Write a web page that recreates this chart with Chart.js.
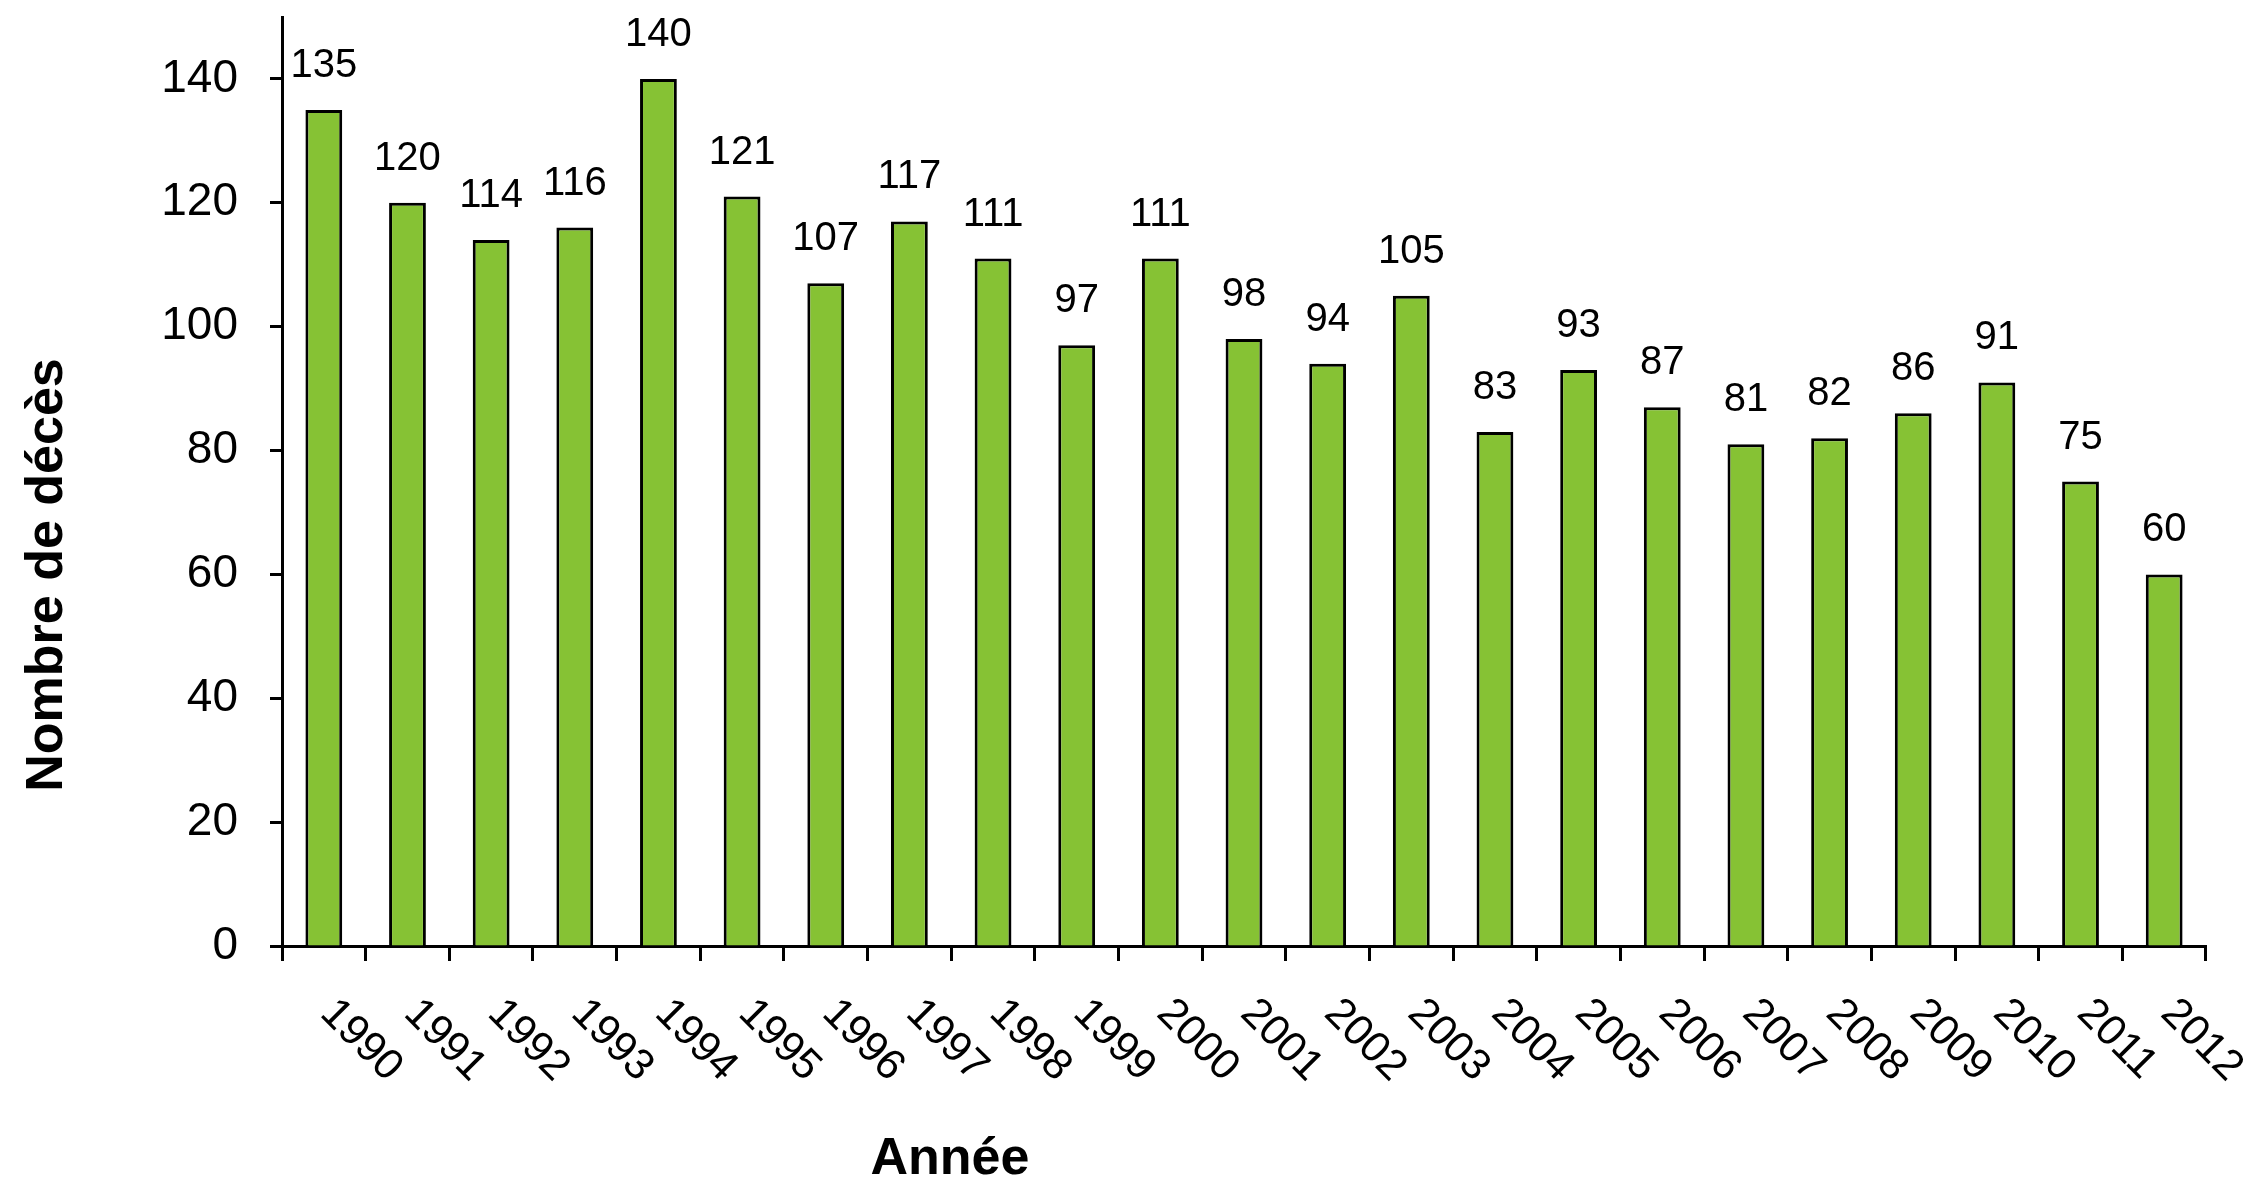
<!DOCTYPE html>
<html lang="fr">
<head>
<meta charset="utf-8">
<title>Nombre de décès par année</title>
<script src="https://cdn.jsdelivr.net/npm/chart.js@4.4.1/dist/chart.umd.min.js"></script>
<style>
    html, body { margin: 0; padding: 0; background: #fff; }
    #wrap { width: 2264px; height: 1182px; position: relative; }
</style>
</head>
<body>
<div id="wrap"><canvas id="decesChart"></canvas></div>
<script>
// données
const years = ['1990', '1991', '1992', '1993', '1994', '1995', '1996', '1997', '1998', '1999', '2000',
    '2001', '2002', '2003', '2004', '2005', '2006', '2007', '2008', '2009', '2010', '2011', '2012'];
const deaths = [135, 120, 114, 116, 140, 121, 107, 117, 111, 97, 111,
    98, 94, 105, 83, 93, 87, 81, 82, 86, 91, 75, 60];
const yTicks = [0, 20, 40, 60, 80, 100, 120, 140];

const FONT = "'Liberation Sans', Arial, sans-serif";
const BAR_GREEN = '#86C234';

// étiquettes : valeurs au-dessus des barres, années inclinées, titres des axes
const labelsPlugin = {
    id: 'labelsPlugin',
    afterDatasetsDraw(chart) {
        const ctx = chart.ctx;
        const meta = chart.getDatasetMeta(0);
        const xScale = chart.scales.x;

        ctx.save();
        ctx.fillStyle = '#000';

        // valeurs
        ctx.font = `40px ${FONT}`;
        ctx.textAlign = 'center';
        ctx.textBaseline = 'alphabetic';
        meta.data.forEach((bar, i) => {
            ctx.fillText(String(deaths[i]), bar.x, bar.y - 33);
        });

        // années (rotation 45° vers le bas)
        ctx.font = `43px ${FONT}`;
        ctx.textAlign = 'left';
        years.forEach((yr, i) => {
            const x = xScale.getPixelForValue(i) - 5;
            const y = xScale.top + 69;
            ctx.save();
            ctx.translate(x, y);
            ctx.rotate(Math.PI / 4);
            ctx.fillText(yr, 0, 0);
            ctx.restore();
        });

        // titres
        ctx.font = `bold 52px ${FONT}`;
        ctx.textAlign = 'center';
        ctx.fillText('Année', 950, 1174);

        ctx.save();
        ctx.translate(62, 575);
        ctx.rotate(-Math.PI / 2);
        ctx.fillText('Nombre de décès', 0, 0);
        ctx.restore();

        ctx.restore();
    }
};

const ctx = document.getElementById('decesChart').getContext('2d');
const decesChart = new Chart(ctx, {
    type: 'bar',
    data: {
        labels: years,
        datasets: [{
            data: deaths,
            backgroundColor: BAR_GREEN,
            borderColor: '#000',
            borderWidth: 3,
            categoryPercentage: 1,
            barPercentage: 0.44
        }]
    },
    options: {
        responsive: true,
        maintainAspectRatio: false,
        animation: false,
        layout: {
            padding: { left: 0, top: 17, right: 58, bottom: 0 }
        },
        plugins: {
            legend: { display: false },
            tooltip: { enabled: false }
        },
        scales: {
            x: {
                offset: true,
                grid: {
                    offset: true,
                    drawOnChartArea: false,
                    drawTicks: true,
                    tickLength: 15,
                    tickWidth: 3,
                    tickColor: '#000'
                },
                border: { display: true, color: '#000', width: 3 },
                ticks: { display: false },
                afterFit(scale) {
                    scale.height = 236;
                    scale.paddingLeft = 0;
                    scale.paddingRight = 0;
                }
            },
            y: {
                min: 0,
                max: 150,
                grid: {
                    drawOnChartArea: false,
                    drawTicks: true,
                    tickLength: 12,
                    tickWidth: 3,
                    tickColor: '#000'
                },
                border: { display: true, color: '#000', width: 3 },
                ticks: {
                    color: '#000',
                    padding: 32,
                    font: { family: FONT, size: 46 }
                },
                afterBuildTicks(scale) {
                    scale.ticks = yTicks.map(v => ({ value: v }));
                },
                afterFit(scale) {
                    scale.width = 282;
                    scale.paddingTop = 0;
                    scale.paddingBottom = 0;
                }
            }
        }
    },
    plugins: [labelsPlugin]
});
</script>
</body>
</html>
